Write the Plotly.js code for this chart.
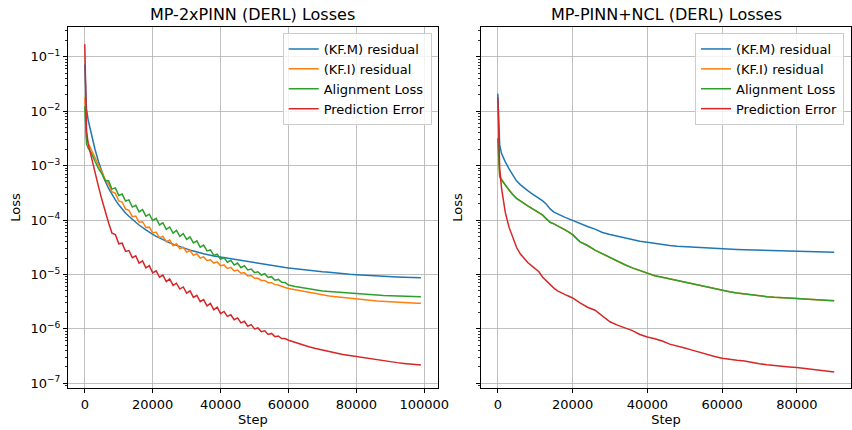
<!DOCTYPE html>
<html>
<head>
<meta charset="utf-8">
<script src="https://cdn.plot.ly/plotly-3.0.1.min.js"></script>
<style>
  html, body { margin: 0; padding: 0; background: #ffffff; }
  #chart { width: 852px; height: 430px; }
</style>
</head>
<body>
<div id="chart"></div>
<script>
// ---- Training-loss histories ----
// Left panel: MP-2xPINN (DERL)
const stepsL = [0, 500, 1000, 2000, 3000, 4000, 5000, 6000, 7000, 8000, 9000, 10000,
  11000, 12000, 13000, 14000, 15000, 16000, 17000, 18000, 19000, 20000,
  21000, 22000, 23000, 24000, 25000, 26000, 27000, 28000, 29000, 30000,
  31000, 32000, 33000, 34000, 35000, 36000, 37000, 38000, 39000, 40000,
  41000, 42000, 43000, 44000, 45000, 46000, 47000, 48000, 49000, 50000,
  51000, 52000, 53000, 54000, 55000, 56000, 57000, 58000, 59000, 60000,
  62000, 64000, 66000, 68000, 70000, 72000, 74000, 76000, 78000, 80000,
  82000, 84000, 86000, 88000, 90000, 92000, 94000, 96000, 98000, 99000];

const kfmL = [7.2e-2, 1.1e-2, 6.8e-3, 3.5e-3, 2.0e-3, 1.2e-3, 7.6e-4, 5.2e-4, 3.8e-4, 2.95e-4, 2.35e-4, 1.9e-4,
  1.58e-4, 1.35e-4, 1.17e-4, 1.02e-4, 9.1e-5, 8.1e-5, 7.2e-5, 6.6e-5, 6.0e-5, 5.4e-5,
  5.0e-5, 4.7e-5, 4.35e-5, 4.1e-5, 3.8e-5, 3.6e-5, 3.4e-5, 3.25e-5, 3.1e-5, 2.95e-5,
  2.8e-5, 2.7e-5, 2.57e-5, 2.5e-5, 2.4e-5, 2.33e-5, 2.24e-5, 2.19e-5, 2.14e-5, 2.09e-5,
  2.02e-5, 1.95e-5, 1.9e-5, 1.86e-5, 1.82e-5, 1.78e-5, 1.74e-5, 1.70e-5, 1.66e-5, 1.62e-5,
  1.58e-5, 1.55e-5, 1.51e-5, 1.48e-5, 1.45e-5, 1.41e-5, 1.38e-5, 1.36e-5, 1.34e-5, 1.32e-5,
  1.27e-5, 1.23e-5, 1.19e-5, 1.15e-5, 1.12e-5, 1.10e-5, 1.06e-5, 1.035e-5, 1.01e-5, 9.9e-6,
  9.7e-6, 9.55e-6, 9.35e-6, 9.2e-6, 9.1e-6, 9.0e-6, 8.9e-6, 8.8e-6, 8.7e-6, 8.7e-6];

const kfiL = [1.8e-2, 3.2e-3, 2.6e-3, 1.9e-3, 1.38e-3, 1.0e-3, 7.4e-4, 5.6e-4, 4.6e-4, 3.3e-4, 3.1e-4, 2.24e-4,
  2.14e-4, 1.59e-4, 1.51e-4, 1.15e-4, 1.18e-4, 9.1e-5, 9.3e-5, 7.3e-5, 7.4e-5, 5.8e-5,
  6.0e-5, 4.75e-5, 5.0e-5, 4.0e-5, 4.3e-5, 3.36e-5, 3.65e-5, 2.95e-5, 3.16e-5, 2.57e-5,
  2.75e-5, 2.24e-5, 2.4e-5, 2.0e-5, 2.1e-5, 1.81e-5, 1.86e-5, 1.62e-5, 1.7e-5, 1.44e-5,
  1.5e-5, 1.29e-5, 1.35e-5, 1.16e-5, 1.2e-5, 1.05e-5, 1.08e-5, 9.4e-6, 9.6e-6, 8.5e-6,
  8.5e-6, 7.75e-6, 7.75e-6, 7.05e-6, 7.05e-6, 6.5e-6, 6.4e-6, 6.0e-6, 5.75e-6, 5.5e-6,
  5.2e-6, 4.9e-6, 4.62e-6, 4.42e-6, 4.22e-6, 4.03e-6, 3.9e-6, 3.76e-6, 3.63e-6, 3.55e-6,
  3.47e-6, 3.35e-6, 3.27e-6, 3.2e-6, 3.13e-6, 3.09e-6, 3.05e-6, 3.02e-6, 2.95e-6, 2.95e-6];

const alignL = [1.23e-2, 2.5e-3, 2.1e-3, 1.66e-3, 1.2e-3, 8.9e-4, 7.1e-4, 5.25e-4, 5.25e-4, 3.7e-4, 3.9e-4, 2.83e-4,
  3.0e-4, 2.23e-4, 2.35e-4, 1.73e-4, 1.86e-4, 1.41e-4, 1.55e-4, 1.18e-4, 1.28e-4, 9.8e-5,
  1.07e-4, 8.1e-5, 8.9e-5, 6.75e-5, 7.45e-5, 5.75e-5, 6.45e-5, 5.0e-5, 5.6e-5, 4.4e-5,
  4.9e-5, 3.8e-5, 4.15e-5, 3.16e-5, 3.46e-5, 2.7e-5, 2.82e-5, 2.24e-5, 2.35e-5, 1.9e-5,
  2.04e-5, 1.68e-5, 1.82e-5, 1.49e-5, 1.62e-5, 1.33e-5, 1.45e-5, 1.21e-5, 1.26e-5, 1.08e-5,
  1.12e-5, 9.75e-6, 1.03e-5, 8.8e-6, 9.1e-6, 7.85e-6, 8.1e-6, 7.15e-6, 7.1e-6, 6.4e-6,
  6.0e-6, 5.7e-6, 5.4e-6, 5.1e-6, 4.95e-6, 4.84e-6, 4.73e-6, 4.62e-6, 4.52e-6, 4.47e-6,
  4.37e-6, 4.27e-6, 4.17e-6, 4.12e-6, 4.07e-6, 4.03e-6, 3.98e-6, 3.94e-6, 3.89e-6, 3.89e-6];

const predL = [1.7e-1, 4.5e-3, 2.5e-3, 1.32e-3, 7.6e-4, 4.2e-4, 2.4e-4, 1.41e-4, 8.9e-5, 5.75e-5, 5.4e-5, 3.65e-5,
  3.75e-5, 2.65e-5, 2.75e-5, 2.04e-5, 2.2e-5, 1.62e-5, 1.78e-5, 1.32e-5, 1.45e-5, 1.07e-5,
  1.17e-5, 8.9e-6, 9.75e-6, 7.4e-6, 8.3e-6, 6.3e-6, 6.9e-6, 5.4e-6, 5.9e-6, 4.55e-6,
  5.0e-6, 3.8e-6, 4.15e-6, 3.16e-6, 3.46e-6, 2.65e-6, 2.95e-6, 2.24e-6, 2.5e-6, 1.91e-6,
  2.09e-6, 1.7e-6, 1.82e-6, 1.47e-6, 1.59e-6, 1.29e-6, 1.38e-6, 1.12e-6, 1.2e-6, 1.0e-6,
  1.04e-6, 8.9e-7, 9.2e-7, 7.9e-7, 8.25e-7, 7.2e-7, 7.4e-7, 6.65e-7, 6.65e-7, 6.2e-7,
  5.6e-7, 5.1e-7, 4.7e-7, 4.37e-7, 4.07e-7, 3.8e-7, 3.55e-7, 3.39e-7, 3.24e-7, 3.09e-7,
  2.95e-7, 2.82e-7, 2.7e-7, 2.57e-7, 2.48e-7, 2.4e-7, 2.32e-7, 2.24e-7, 2.19e-7, 2.16e-7];

// Right panel: MP-PINN+NCL (DERL)
const stepsR = [0, 250, 500, 1000, 1500,
  2000, 3000, 4000, 5000, 6000, 7000, 8000, 9000, 10000, 11000, 12000, 13000, 14000, 15000,
  16000, 17000, 18000, 19000, 20000,
  22000, 24000, 26000, 28000, 30000, 32000, 34000, 36000, 38000, 40000,
  42000, 44000, 46000, 48000, 50000, 52000, 54000, 56000, 58000, 60000,
  62000, 64000, 66000, 68000, 70000, 72000, 74000, 76000, 78000, 80000,
  82000, 84000, 86000, 88000, 90000];

const kfmR = [2.1e-2, 3.5e-3, 2.4e-3, 1.66e-3, 1.35e-3,
  1.17e-3, 8.7e-4, 6.6e-4, 5.25e-4, 4.47e-4, 3.9e-4, 3.47e-4, 3.1e-4, 2.8e-4, 2.55e-4, 2.25e-4, 1.95e-4, 1.6e-4, 1.4e-4,
  1.29e-4, 1.2e-4, 1.12e-4, 1.05e-4, 9.8e-5,
  8.5e-5, 7.6e-5, 6.8e-5, 5.9e-5, 5.4e-5, 5.0e-5, 4.7e-5, 4.37e-5, 4.07e-5, 3.9e-5,
  3.7e-5, 3.55e-5, 3.4e-5, 3.3e-5, 3.24e-5, 3.16e-5, 3.1e-5, 3.02e-5, 2.99e-5, 2.95e-5,
  2.92e-5, 2.88e-5, 2.85e-5, 2.82e-5, 2.79e-5, 2.75e-5, 2.72e-5, 2.69e-5, 2.69e-5, 2.66e-5,
  2.63e-5, 2.63e-5, 2.6e-5, 2.57e-5, 2.57e-5];

const alignR = [3.2e-3, 8.9e-4, 6.3e-4, 5.5e-4, 4.9e-4,
  4.37e-4, 3.55e-4, 2.95e-4, 2.5e-4, 2.24e-4, 2.0e-4, 1.82e-4, 1.66e-4, 1.51e-4, 1.38e-4, 1.23e-4, 1.05e-4, 9.1e-5, 8.5e-5,
  7.9e-5, 7.2e-5, 6.6e-5, 6.0e-5, 5.4e-5,
  3.98e-5, 3.4e-5, 2.8e-5, 2.4e-5, 2.0e-5, 1.74e-5, 1.51e-5, 1.32e-5, 1.17e-5, 1.05e-5,
  9.5e-6, 8.9e-6, 8.3e-6, 7.6e-6, 7.1e-6, 6.6e-6, 6.2e-6, 5.75e-6, 5.4e-6, 5.0e-6,
  4.8e-6, 4.57e-6, 4.37e-6, 4.17e-6, 3.98e-6, 3.9e-6, 3.8e-6, 3.7e-6, 3.63e-6, 3.6e-6,
  3.55e-6, 3.47e-6, 3.39e-6, 3.35e-6, 3.3e-6];

// KF.I residual coincides with the alignment loss in this model
const kfiR = alignR;

const predR = [1.8e-2, 2.5e-3, 8.9e-4, 3.8e-4, 2.24e-4,
  1.38e-4, 7.4e-5, 4.7e-5, 3.16e-5, 2.4e-5, 1.95e-5, 1.66e-5, 1.45e-5, 1.29e-5, 1.12e-5, 8.9e-6, 7.6e-6, 6.3e-6, 5.6e-6,
  5.0e-6, 4.57e-6, 4.27e-6, 3.98e-6, 3.7e-6,
  3.0e-6, 2.5e-6, 2.2e-6, 1.74e-6, 1.35e-6, 1.17e-6, 1.05e-6, 9.3e-7, 7.9e-7, 7.1e-7,
  6.6e-7, 6.0e-7, 5.25e-7, 4.9e-7, 4.47e-7, 4.07e-7, 3.7e-7, 3.4e-7, 3.1e-7, 2.9e-7,
  2.75e-7, 2.66e-7, 2.57e-7, 2.4e-7, 2.29e-7, 2.19e-7, 2.11e-7, 2.04e-7, 2.0e-7, 1.95e-7,
  1.88e-7, 1.82e-7, 1.74e-7, 1.68e-7, 1.62e-7];

const seriesNames = ['(KF.M) residual', '(KF.I) residual', 'Alignment Loss', 'Prediction Error'];
const seriesColors = ['#1f77b4', '#ff7f0e', '#2ca02c', '#d62728'];
const panelTitles = ['MP-2xPINN (DERL) Losses', 'MP-PINN+NCL (DERL) Losses'];
const yTickVals = [1e-7, 1e-6, 1e-5, 1e-4, 1e-3, 1e-2, 1e-1];
const yTickText = ['10<sup>\u22127</sup>', '10<sup>\u22126</sup>', '10<sup>\u22125</sup>',
  '10<sup>\u22124</sup>', '10<sup>\u22123</sup>', '10<sup>\u22122</sup>', '10<sup>\u22121</sup>'];
const xTickValsL = [0, 20000, 40000, 60000, 80000, 100000];
const xTickValsR = [0, 20000, 40000, 60000, 80000];

// ---- Traces ----
const FONT = 'DejaVu Sans, Verdana, sans-serif';
const traces = [];
function addPanel(steps, ys, xa, ya, legendId) {
  ys.forEach((y, i) => {
    traces.push({
      type: 'scatter', mode: 'lines',
      x: steps, y: y,
      name: seriesNames[i],
      xaxis: xa, yaxis: ya,
      legend: legendId,
      line: { color: seriesColors[i], width: 1.5 },
      hoverinfo: 'skip'
    });
  });
}
addPanel(stepsL, [kfmL, kfiL, alignL, predL], 'x', 'y', 'legend');
addPanel(stepsR, [kfmR, kfiR, alignR, predR], 'x2', 'y2', 'legend2');

// minor ticks on the log axes (2..9 within each decade)
const minorVals = [];
for (let e = -8; e <= 0; e++) {
  for (let m = 2; m <= 9; m++) minorVals.push(m * Math.pow(10, e));
}

const W = 852, H = 430;
const fx = px => px / W;
const fy = py => 1 - py / H;

const axisCommon = {
  showline: true, mirror: true, linecolor: '#000000', linewidth: 1,
  ticks: 'outside', ticklen: 4, tickwidth: 1, tickcolor: '#000000',
  showgrid: true, gridcolor: '#b0b0b0', gridwidth: 0.8,
  zeroline: false,
  tickfont: { family: FONT, size: 13, color: '#000000' }
};

function xAxis(domain, range, tickvals, anchor) {
  return Object.assign({}, axisCommon, {
    domain: domain, range: range, anchor: anchor,
    tickmode: 'array', tickvals: tickvals, ticktext: tickvals.map(v => String(v)),
    title: { text: 'Step', font: { family: FONT, size: 13, color: '#000000' }, standoff: 3 }
  });
}
function yAxis(anchor, showLabels) {
  return Object.assign({}, axisCommon, {
    type: 'log', domain: [fy(388), fy(27)], range: [-7.086, -0.454], anchor: anchor,
    tickmode: 'array', tickvals: yTickVals, ticktext: yTickText,
    showticklabels: showLabels,
    minor: { tickmode: 'array', tickvals: minorVals, ticks: 'outside', ticklen: 2.5,
             tickwidth: 0.8, tickcolor: '#000000', showgrid: false },
    title: { text: 'Loss', font: { family: FONT, size: 13, color: '#000000' }, standoff: showLabels ? 6 : 10 }
  });
}

const legendCommon = {
  xanchor: 'right', yanchor: 'top',
  bgcolor: 'rgba(255,255,255,0.8)', bordercolor: '#cccccc', borderwidth: 1,
  font: { family: FONT, size: 13, color: '#000000' }
};

const layout = {
  width: W, height: H,
  margin: { l: 0, r: 0, t: 0, b: 0 },
  paper_bgcolor: '#ffffff', plot_bgcolor: '#ffffff',
  font: { family: FONT, color: '#000000' },
  showlegend: true,
  xaxis: xAxis([fx(68), fx(437.7)], [-4950, 103950], xTickValsL, 'y'),
  yaxis: yAxis('x', true),
  xaxis2: xAxis([fx(481), fx(851)], [-4500, 94500], xTickValsR, 'y2'),
  yaxis2: yAxis('x2', false),
  legend: Object.assign({}, legendCommon, { x: fx(431.7), y: fy(33) }),
  legend2: Object.assign({}, legendCommon, { x: fx(844), y: fy(33) }),
  annotations: [
    { text: panelTitles[0], xref: 'paper', yref: 'paper', x: fx((68 + 437.7) / 2), y: fy(15),
      xanchor: 'center', yanchor: 'middle', showarrow: false,
      font: { family: FONT, size: 16, color: '#000000' } },
    { text: panelTitles[1], xref: 'paper', yref: 'paper', x: fx((481 + 851) / 2), y: fy(15),
      xanchor: 'center', yanchor: 'middle', showarrow: false,
      font: { family: FONT, size: 16, color: '#000000' } }
  ]
};

Plotly.newPlot('chart', traces, layout, { staticPlot: true, displayModeBar: false });
</script>
</body>
</html>
